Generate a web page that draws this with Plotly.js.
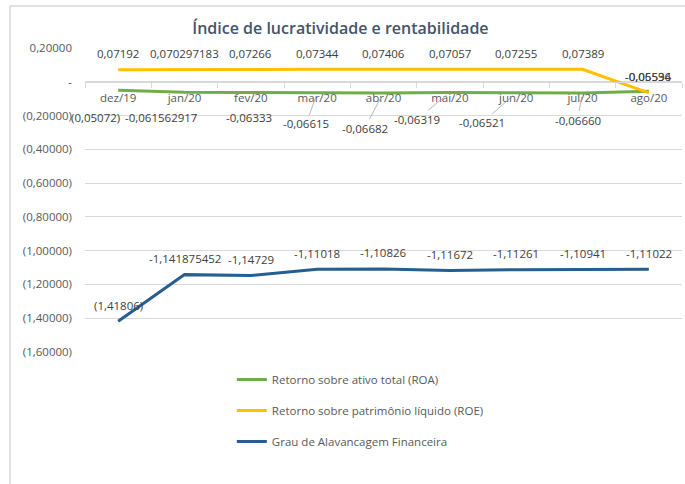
<!DOCTYPE html>
<html>
<head>
<meta charset="utf-8">
<script src="https://cdn.plot.ly/plotly-3.0.1.min.js"></script>
<style>html,body{margin:0;padding:0;background:#fff;}#chart{width:685px;height:484px;}</style>
</head>
<body>
<div id="chart"></div>
<script>
const categories = ['dez/19','jan/20','fev/20','mar/20','abr/20','mai/20','jun/20','jul/20','ago/20'];
const roa = [-0.05072, -0.061562917, -0.06333, -0.06615, -0.06682, -0.06319, -0.06521, -0.06660, -0.05594];
const roe = [0.07192, 0.070297183, 0.07266, 0.07344, 0.07406, 0.07057, 0.07255, 0.07389, -0.06536];
const gaf = [-1.41806, -1.141875452, -1.14729, -1.11018, -1.10826, -1.11672, -1.11261, -1.10941, -1.11022];
const yTicks = [0.2, 0, -0.2, -0.4, -0.6, -0.8, -1.0, -1.2, -1.4, -1.6];

const seriesNames = ['Retorno sobre ativo total (ROA)', 'Retorno sobre patrimônio líquido (ROE)', 'Grau de Alavancagem Financeira'];

// label formatting styles (parentheses for negatives on some points)
const roaParen = [true, false, false, false, false, false, false, false, false];
const roeParen = [false, false, false, false, false, false, false, false, false];
const gafParen = [true, false, false, false, false, false, false, false, false];

// label offsets for ROA labels (pixels from point; ay positive = down)
const roaAx = [-23, -24, -2, -11, -19, -33, -34, -5, 0];
const roaAy = [27, 25, 25, 31, 35, 27, 30, 27, -15];
const roaLeader = [false, false, false, true, true, true, true, true, false];

function fmt(v, paren) {
  const s = String(Math.abs(v));
  const dec = s.indexOf('.') >= 0 ? s.length - s.indexOf('.') - 1 : 0;
  const d = Math.max(dec, 5);
  const body = Math.abs(v).toFixed(d).replace('.', ',');
  if (v < 0) return paren ? '(' + body + ')' : '-' + body;
  return body;
}
function tickFmt(v) {
  if (Math.abs(v) < 1e-9) return '-';
  const body = Math.abs(v).toFixed(5).replace('.', ',');
  return v < 0 ? '(' + body + ')' : body;
}

const FONT = 'Open Sans, sans-serif';
const labelFont = {family: FONT, size: 11.5, color: '#404040'};

const traces = [
  {x: categories, y: roa, name: seriesNames[0], type: 'scatter', mode: 'lines',
   line: {color: '#70AD47', width: 3}, legendgroup: 'a'},
  {x: categories, y: roe, name: seriesNames[1], type: 'scatter', mode: 'lines',
   line: {color: '#FFC000', width: 3}, legendgroup: 'b'},
  {x: categories, y: gaf, name: seriesNames[2], type: 'scatter', mode: 'lines',
   line: {color: '#255E91', width: 3}, legendgroup: 'c'}
];

const annotations = [];
categories.forEach((c, i) => {
  annotations.push({x: c, y: roe[i], xref: 'x', yref: 'y', text: fmt(roe[i], roeParen[i]),
    showarrow: false, yshift: 16, font: labelFont});
  annotations.push({x: c, y: gaf[i], xref: 'x', yref: 'y', text: fmt(gaf[i], gafParen[i]),
    showarrow: false, yshift: 16, font: labelFont});
  annotations.push({x: c, y: roa[i], xref: 'x', yref: 'y', text: fmt(roa[i], roaParen[i]),
    showarrow: true, ax: roaAx[i], ay: roaAy[i], arrowhead: 0, arrowwidth: 0.8,
    arrowcolor: roaLeader[i] ? '#a6a6a6' : 'rgba(0,0,0,0)', standoff: 4, font: labelFont});
});

const layout = {
  width: 685, height: 484,
  margin: {l: 85, r: 3, t: 48, b: 132},
  paper_bgcolor: '#ffffff', plot_bgcolor: '#ffffff',
  font: {family: FONT, size: 11.5, color: '#595959'},
  title: {text: 'Índice de lucratividade e rentabilidade', font: {family: FONT, size: 16, weight: 600, color: '#44546A'},
    x: 0.497, xref: 'container', y: 1 - 28/484, yref: 'container', yanchor: 'middle'},
  xaxis: {type: 'category', anchor: 'free', position: 1.6/1.8, showgrid: false,
    showline: true, linecolor: '#d9d9d9', linewidth: 1,
    ticks: 'outside', ticklen: 5, tickcolor: '#d9d9d9', tickson: 'boundaries',
    tickfont: {family: FONT, size: 11.5, color: '#595959'}, ticklabelstandoff: 5,
    range: [-0.5, 8.5], fixedrange: true},
  yaxis: {range: [-1.6, 0.2], tickvals: yTicks, ticktext: yTicks.map(tickFmt),
    showgrid: true, gridcolor: '#d9d9d9', gridwidth: 1, zeroline: false, showline: false,
    ticks: '', ticklabelstandoff: 12, tickfont: {family: FONT, size: 11.5, color: '#595959'}},
  legend: {x: 0.246, xanchor: 'left', y: -0.043, yanchor: 'top', orientation: 'v',
    traceorder: 'grouped', tracegroupgap: 12, font: {family: FONT, size: 11.5, color: '#595959'},
    bgcolor: 'rgba(0,0,0,0)'},
  showlegend: true,
  annotations: annotations,
  shapes: [
    {type: 'line', xref: 'paper', yref: 'paper', x0: (10-85)/597, x1: (10-85)/597, y0: (352-6)/304, y1: (352-490)/304,
     line: {color: '#d9d9d9', width: 1.5}},
    {type: 'line', xref: 'paper', yref: 'paper', x0: (10-85)/597, x1: 1.01, y0: (352-6)/304, y1: (352-6)/304,
     line: {color: '#d9d9d9', width: 1.5}}
  ]
};

Plotly.newPlot('chart', traces, layout, {displayModeBar: false, staticPlot: true});
</script>
</body>
</html>
